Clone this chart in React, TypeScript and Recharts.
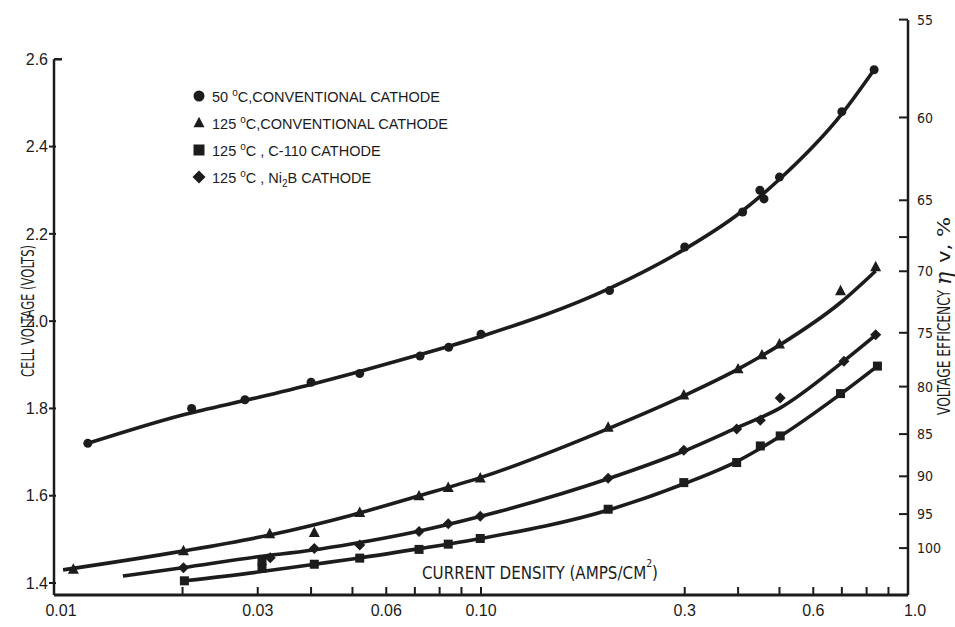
import { ComposedChart, Line, Scatter, XAxis, YAxis, ReferenceLine } from "recharts";

const INK = "#1c1c1c";
const FONT = "'Liberation Sans', Arial, sans-serif";
const NARROW = "'Liberation Sans Narrow', 'DejaVu Sans Condensed', 'Liberation Sans', sans-serif";

// axis ranges (cell voltage, current density)
const V_MIN = 1.3725;
const V_MAX = 2.69;
const V_AXIS_TOP = 2.6;
const X_DOMAIN = [0.01, 1];

const X_TICKS = [0.01, 0.02, 0.03, 0.04, 0.05, 0.06, 0.07, 0.08, 0.09, 0.1, 0.3, 0.4, 0.5, 0.6, 0.7, 0.8, 0.9, 1.0];
const X_LABEL_VALUES = [0.01, 0.03, 0.06, 0.1, 0.3, 0.6, 1.0];
const X_LABEL_TEXT = ["0.01", "0.03", "0.06", "0.10", "0.3", "0.6", "1.0"];

const V_TICKS = [1.4, 1.6, 1.8, 2.0, 2.2, 2.4, 2.6];
const V_LABELS = ["1.4", "1.6", "1.8", "2.0", "2.2", "2.4", "2.6"];

// voltage efficiency, %  (eta = 1.48 V / cell voltage)
const EFF_TICKS = [55, 60, 65, 67.5, 70, 75, 80, 85, 90, 95, 100];
const THERMONEUTRAL = 1.48;

// 50 C, conventional cathode
const CIRCLE_POINTS = [
  { x: 0.012, v: 1.72 }, { x: 0.021, v: 1.8 }, { x: 0.028, v: 1.82 }, { x: 0.04, v: 1.86 },
  { x: 0.052, v: 1.88 }, { x: 0.072, v: 1.92 }, { x: 0.084, v: 1.94 }, { x: 0.1, v: 1.97 },
  { x: 0.2, v: 2.07 }, { x: 0.3, v: 2.17 }, { x: 0.41, v: 2.25 }, { x: 0.45, v: 2.3 },
  { x: 0.46, v: 2.28 }, { x: 0.5, v: 2.33 }, { x: 0.7, v: 2.48 }, { x: 0.833, v: 2.576 },
];
const CIRCLE_CURVE = [
  { x: 0.012, v: 1.72 }, { x: 0.02, v: 1.785 }, { x: 0.03, v: 1.825 }, { x: 0.04, v: 1.855 },
  { x: 0.05, v: 1.88 }, { x: 0.07, v: 1.92 }, { x: 0.1, v: 1.965 }, { x: 0.2, v: 2.075 },
  { x: 0.3, v: 2.165 }, { x: 0.4, v: 2.245 }, { x: 0.5, v: 2.325 }, { x: 0.7, v: 2.475 },
  { x: 0.833, v: 2.576 },
];

// 125 C, conventional cathode
const TRIANGLE_POINTS = [
  { x: 0.0111, v: 1.431 }, { x: 0.0201, v: 1.473 }, { x: 0.032, v: 1.512 }, { x: 0.0407, v: 1.515 },
  { x: 0.052, v: 1.561 }, { x: 0.0716, v: 1.599 }, { x: 0.0838, v: 1.618 }, { x: 0.0996, v: 1.64 },
  { x: 0.1985, v: 1.756 }, { x: 0.2985, v: 1.83 }, { x: 0.4, v: 1.89 }, { x: 0.455, v: 1.922 },
  { x: 0.5, v: 1.947 }, { x: 0.695, v: 2.069 }, { x: 0.84, v: 2.124 },
];
const TRIANGLE_CURVE = [
  { x: 0.0105, v: 1.43 }, { x: 0.02, v: 1.473 }, { x: 0.032, v: 1.51 }, { x: 0.05, v: 1.556 },
  { x: 0.07, v: 1.597 }, { x: 0.1, v: 1.642 }, { x: 0.2, v: 1.755 }, { x: 0.3, v: 1.83 },
  { x: 0.4, v: 1.89 }, { x: 0.5, v: 1.945 }, { x: 0.7, v: 2.045 }, { x: 0.84, v: 2.115 },
];

// 125 C, C-110 cathode
const SQUARE_POINTS = [
  { x: 0.0202, v: 1.405 }, { x: 0.0307, v: 1.434 }, { x: 0.0307, v: 1.45 }, { x: 0.0407, v: 1.443 },
  { x: 0.052, v: 1.457 }, { x: 0.0716, v: 1.477 }, { x: 0.0838, v: 1.489 }, { x: 0.0996, v: 1.502 },
  { x: 0.1985, v: 1.569 }, { x: 0.2985, v: 1.63 }, { x: 0.397, v: 1.676 }, { x: 0.451, v: 1.714 },
  { x: 0.502, v: 1.737 }, { x: 0.695, v: 1.834 }, { x: 0.848, v: 1.897 },
];
const SQUARE_CURVE = [
  { x: 0.0202, v: 1.405 }, { x: 0.03, v: 1.425 }, { x: 0.04, v: 1.442 }, { x: 0.05, v: 1.455 },
  { x: 0.07, v: 1.477 }, { x: 0.1, v: 1.502 }, { x: 0.2, v: 1.568 }, { x: 0.3, v: 1.628 },
  { x: 0.4, v: 1.68 }, { x: 0.5, v: 1.735 }, { x: 0.7, v: 1.835 }, { x: 0.848, v: 1.897 },
];

// 125 C, Ni2B cathode
const DIAMOND_POINTS = [
  { x: 0.0201, v: 1.435 }, { x: 0.0321, v: 1.458 }, { x: 0.0407, v: 1.479 }, { x: 0.052, v: 1.487 },
  { x: 0.0716, v: 1.518 }, { x: 0.0838, v: 1.536 }, { x: 0.0996, v: 1.553 }, { x: 0.1985, v: 1.64 },
  { x: 0.2985, v: 1.704 }, { x: 0.397, v: 1.753 }, { x: 0.451, v: 1.773 }, { x: 0.502, v: 1.824 },
  { x: 0.708, v: 1.908 }, { x: 0.84, v: 1.969 },
];
const DIAMOND_CURVE = [
  { x: 0.0145, v: 1.416 }, { x: 0.02, v: 1.435 }, { x: 0.03, v: 1.46 }, { x: 0.04, v: 1.475 },
  { x: 0.05, v: 1.49 }, { x: 0.07, v: 1.517 }, { x: 0.1, v: 1.553 }, { x: 0.2, v: 1.64 },
  { x: 0.3, v: 1.703 }, { x: 0.4, v: 1.757 }, { x: 0.5, v: 1.8 }, { x: 0.7, v: 1.905 },
  { x: 0.84, v: 1.968 },
];

const SERIES = [
  { kind: "circle", curve: CIRCLE_CURVE, points: CIRCLE_POINTS },
  { kind: "triangle", curve: TRIANGLE_CURVE, points: TRIANGLE_POINTS },
  { kind: "square", curve: SQUARE_CURVE, points: SQUARE_POINTS },
  { kind: "diamond", curve: DIAMOND_CURVE, points: DIAMOND_POINTS },
];

const LEGEND_KINDS = ["circle", "triangle", "square", "diamond"];
const LEGEND_TEMPS = ["50 ", "125 ", "125 ", "125 "];
const LEGEND_TEXT = ["C,CONVENTIONAL CATHODE", "C,CONVENTIONAL CATHODE", "C , C-110 CATHODE", "C , Ni"];

function Mark({ kind, cx, cy, s }: { kind: string; cx: number; cy: number; s: number }) {
  if (kind === "circle") return <circle cx={cx} cy={cy} r={s / 2} fill={INK} />;
  if (kind === "triangle") {
    const h = s * 0.95;
    return (
      <polygon
        points={`${cx},${cy - h * 0.6} ${cx + s / 2},${cy + h * 0.4} ${cx - s / 2},${cy + h * 0.4}`}
        fill={INK}
      />
    );
  }
  if (kind === "square") return <rect x={cx - s / 2} y={cy - s / 2} width={s} height={s} fill={INK} />;
  return (
    <polygon
      points={`${cx},${cy - s / 2} ${cx + s / 2},${cy} ${cx},${cy + s / 2} ${cx - s / 2},${cy}`}
      fill={INK}
    />
  );
}

const MARK_SIZE: Record<string, number> = { circle: 9, triangle: 11, square: 9, diamond: 11 };

function XTick({ x, y, payload }: any) {
  const i = X_LABEL_VALUES.findIndex((v) => Math.abs(v - payload.value) < 1e-9);
  const shift = i === 0 || i === X_LABEL_VALUES.length - 1 ? 7 : 0;
  return (
    <g>
      <line x1={x} x2={x} y1={y} y2={y - 8} stroke={INK} strokeWidth={2} />
      {i >= 0 && (
        <text x={x + shift} y={y + 21} textAnchor="middle" fontSize={16} fontFamily={FONT} fill={INK}>
          {X_LABEL_TEXT[i]}
        </text>
      )}
    </g>
  );
}

function VTick({ x, y, payload }: any) {
  const i = V_TICKS.findIndex((v) => Math.abs(v - payload.value) < 1e-9);
  const top = payload.value === V_AXIS_TOP;
  return (
    <g>
      {top ? (
        <line x1={x} x2={x + 8} y1={y} y2={y} stroke={INK} strokeWidth={2.5} />
      ) : (
        <line x1={x - 5} x2={x + 2} y1={y} y2={y} stroke={INK} strokeWidth={2} />
      )}
      <text x={x - 6} y={y} dy="0.36em" textAnchor="end" fontSize={16} fontFamily={FONT} fill={INK}>
        {V_LABELS[i]}
      </text>
    </g>
  );
}

function EffTick({ x, y, index }: any) {
  const e = EFF_TICKS[index];
  return (
    <g>
      <line x1={x} x2={x - 9} y1={y} y2={y} stroke={INK} strokeWidth={2} />
      {e % 5 === 0 && (
        <text x={x + 9} y={y} dy="0.36em" textAnchor="start" fontSize={14} fontFamily={NARROW} fill={INK}>
          {e}
        </text>
      )}
    </g>
  );
}

export default function App() {
  const effTickVolts = EFF_TICKS.map((e) => THERMONEUTRAL / (e / 100));

  return (
    <div style={{ position: "absolute", left: 0, top: 0, width: 955, height: 627, background: "#fff" }}>
      <ComposedChart width={955} height={627} margin={{ top: 20, right: 0, bottom: 0, left: 0 }}>
        <XAxis
          dataKey="x"
          type="number"
          scale="log"
          domain={X_DOMAIN}
          ticks={X_TICKS}
          interval={0}
          allowDataOverflow
          height={32}
          tickSize={0}
          tickMargin={0}
          tickLine={false}
          axisLine={{ stroke: INK, strokeWidth: 3 }}
          tick={<XTick />}
        />
        <YAxis
          yAxisId="v"
          type="number"
          domain={[V_MIN, V_MAX]}
          ticks={V_TICKS}
          interval={0}
          allowDataOverflow
          width={54}
          tickSize={0}
          tickMargin={0}
          tickLine={false}
          axisLine={false}
          tick={<VTick />}
        />
        <YAxis
          yAxisId="eff"
          orientation="right"
          type="number"
          domain={[V_MIN, V_MAX]}
          ticks={effTickVolts}
          interval={0}
          allowDataOverflow
          width={47}
          tickSize={0}
          tickMargin={0}
          tickLine={false}
          axisLine={{ stroke: INK, strokeWidth: 2.5 }}
          tick={<EffTick />}
        />
        <ReferenceLine
          yAxisId="v"
          segment={[{ x: X_DOMAIN[0], y: V_MIN }, { x: X_DOMAIN[0], y: V_AXIS_TOP }]}
          stroke={INK}
          strokeWidth={2.5}
          ifOverflow="visible"
        />
        {SERIES.map((s) => (
          <Line
            key={`c-${s.kind}`}
            yAxisId="v"
            data={s.curve}
            dataKey="v"
            type="monotone"
            stroke={INK}
            strokeWidth={3.6}
            dot={false}
            activeDot={false}
            isAnimationActive={false}
          />
        ))}
        {SERIES.map((s) => (
          <Scatter
            key={`p-${s.kind}`}
            yAxisId="v"
            data={s.points}
            dataKey="v"
            isAnimationActive={false}
            shape={(p: any) => <Mark kind={s.kind} cx={p.cx} cy={p.cy} s={MARK_SIZE[s.kind]} />}
          />
        ))}
      </ComposedChart>

      <svg
        width={955}
        height={627}
        style={{ position: "absolute", left: 0, top: 0, pointerEvents: "none" }}
      >
        {/* legend */}
        {LEGEND_KINDS.map((k, i) => {
          const cy = 96 + i * 27;
          return (
            <g key={k}>
              <Mark kind={k} cx={199} cy={cy} s={k === "diamond" ? 13 : 11} />
              <text x={212} y={cy + 5.5} fontSize={14.5} fontFamily={FONT} fill={INK}>
                {LEGEND_TEMPS[i]}
                <tspan dy={-6} fontSize={10}>o</tspan>
                <tspan dy={6}>{LEGEND_TEXT[i]}</tspan>
                {k === "diamond" && (
                  <>
                    <tspan dy={4} fontSize={10}>2</tspan>
                    <tspan dy={-4}>B CATHODE</tspan>
                  </>
                )}
              </text>
            </g>
          );
        })}

        {/* axis titles */}
        <g transform="translate(33.5, 377) rotate(-90)">
          <text x={0} y={0} fontSize={18} fontFamily={NARROW} fill={INK} textLength={132} lengthAdjust="spacingAndGlyphs">
            CELL VOLTAGE (VOLTS)
          </text>
        </g>
        <g transform="translate(950, 415) rotate(-90)">
          <text x={0} y={0} fontSize={18} fontFamily={NARROW} fill={INK} textLength={125} lengthAdjust="spacingAndGlyphs">
            VOLTAGE EFFICENCY
          </text>
          <text x={130} y={1} fontSize={22} fontFamily="'DejaVu Serif', serif" fontStyle="italic" fill={INK}>
            η
          </text>
          <text x={152} y={0} fontSize={17} fontFamily={NARROW} fill={INK} textLength={46} lengthAdjust="spacingAndGlyphs">
            v, %
          </text>
        </g>
        <text x={422} y={579} fontSize={18} fontFamily={NARROW} fill={INK} textLength={236} lengthAdjust="spacingAndGlyphs">
          CURRENT DENSITY (AMPS/CM
          <tspan dy={-12} fontSize={11}>2</tspan>
          <tspan dy={12}>)</tspan>
        </text>
      </svg>
    </div>
  );
}
